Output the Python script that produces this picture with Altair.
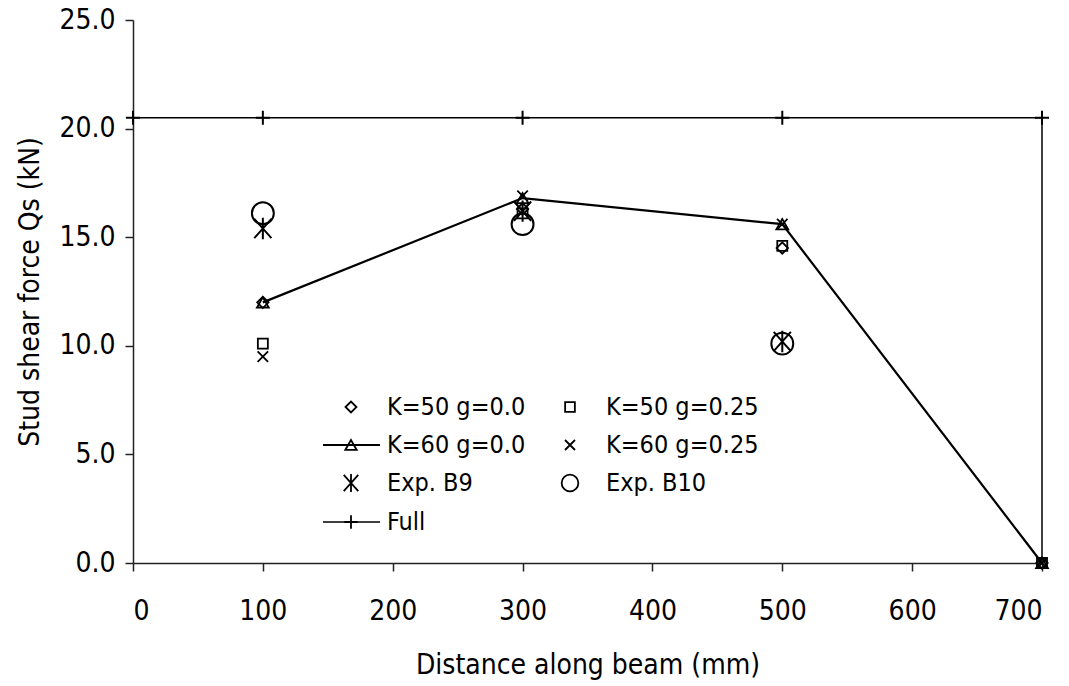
import altair as alt
import pandas as pd

# ---- data ----
x_pos = [100, 300, 500, 700]
k50_g00 = [12.0, 16.3, 14.5, 0.0]
k50_g25 = [10.1, 16.1, 14.6, 0.0]
k60_g00 = [12.0, 16.8, 15.6, 0.0]
k60_g25 = [9.5, 16.9, 15.6, 0.0]
exp_x = [100, 300, 500]
exp_b9 = [15.4, 16.2, 10.2]
exp_b10 = [16.1, 15.6, 10.1]
full_x = [0, 100, 300, 500, 700, 700]
full_y = [20.5, 20.5, 20.5, 20.5, 20.5, 0.0]

FONT = "Liberation Sans Narrow, DejaVu Sans Condensed, Liberation Sans, Arial, sans-serif"
W, H = 909, 543

ASTERISK = "M0,-1L0,1M-0.8,-0.9L0.8,0.9M-0.8,0.9L0.8,-0.9"
XSHAPE = "M-1,-1L1,1M-1,1L1,-1"
PLUS = "M-1,0L1,0M0,-1L0,1"

xs = alt.Scale(domain=[0, 700], nice=False, zero=False)
ys = alt.Scale(domain=[0, 25], nice=False, zero=False)

x_enc = alt.X("x:Q", scale=xs,
              axis=alt.Axis(values=[0, 100, 200, 300, 400, 500, 600, 700], format="d",
                            title="Distance along beam (mm)", grid=False))
y_enc = alt.Y("y:Q", scale=ys,
              axis=alt.Axis(values=[0, 5, 10, 15, 20, 25], format=".1f",
                            title="Stud shear force Qs (kN)", grid=False))


def df(xv, yv):
    return pd.DataFrame({"x": xv, "y": yv})


def pts(data, shape, size, sw=1.8):
    return alt.Chart(data).mark_point(shape=shape, size=size, filled=False,
                                      color="black", strokeWidth=sw, opacity=1).encode(x=x_enc, y=y_enc)


full_df = df(full_x, full_y)
full_line = alt.Chart(full_df).mark_line(color="black", strokeWidth=1.5).encode(x=x_enc, y=y_enc)
full_pts = pts(df(full_x[:5], full_y[:5]), PLUS, 200, 2)

k60_df = df(x_pos, k60_g00)
k60_line = alt.Chart(k60_df).mark_line(color="black", strokeWidth=2.2).encode(x=x_enc, y=y_enc)
k60_pts = pts(k60_df, "triangle-up", 140)

layers = [
    full_line, full_pts, k60_line, k60_pts,
    pts(df(x_pos, k50_g00), "diamond", 130),
    pts(df(x_pos, k50_g25), "square", 100),
    pts(df(x_pos, k60_g25), XSHAPE, 110),
    pts(df(exp_x, exp_b9), ASTERISK, 460, 2),
    pts(df(exp_x, exp_b10), "circle", 480, 2),
]

# ---- manual legend (pixel positions inside the plot area) ----
leg_items = [
    ("K=50 g=0.0", "diamond", 120, 218, 387, False),
    ("K=60  g=0.0", "triangle-up", 130, 218, 425, True),
    ("Exp. B9", ASTERISK, 330, 218, 463, False),
    ("Full", PLUS, 180, 218, 502, True),
    ("K=50 g=0.25", "square", 95, 437, 387, False),
    ("K=60 g=0.25", XSHAPE, 100, 437, 425, False),
    ("Exp. B10", "circle", 280, 437, 463, False),
]
one = pd.DataFrame({"a": [0]})
for label, shape, size, sx, sy, with_line in leg_items:
    if with_line:
        layers.append(alt.Chart(one).mark_rule(color="black", strokeWidth=2 if label != "Full" else 1.5).encode(
            x=alt.value(sx - 28), x2=alt.value(sx + 29), y=alt.value(sy)))
    layers.append(alt.Chart(one).mark_point(shape=shape, size=size, filled=False, color="black",
                                            strokeWidth=1.8, opacity=1).encode(
        x=alt.value(sx), y=alt.value(sy)))
    layers.append(alt.Chart(one).mark_text(text=label, align="left", baseline="middle", font=FONT,
                                           fontSize=25, color="black").encode(
        x=alt.value(sx + 36), y=alt.value(sy)))

chart = alt.layer(*layers).properties(
    width=W, height=H,
    autosize=alt.AutoSizeParams(type="none"),
    padding={"left": 133, "top": 20, "right": 27, "bottom": 123},
    background="white",
).configure_view(stroke=None).configure_axis(
    labelFont=FONT, titleFont=FONT, labelFontSize=28, titleFontSize=28,
    labelColor="black", titleColor="black", titleFontWeight="normal",
    domainColor="#222", domainWidth=1.5, tickColor="#222", tickWidth=1.5,
    tickSize=8,
).configure_axisX(labelPadding=26, titlePadding=26).configure_axisY(labelPadding=10, titlePadding=14)

chart.save("out.html", embed_options={"renderer": "svg", "actions": False})
